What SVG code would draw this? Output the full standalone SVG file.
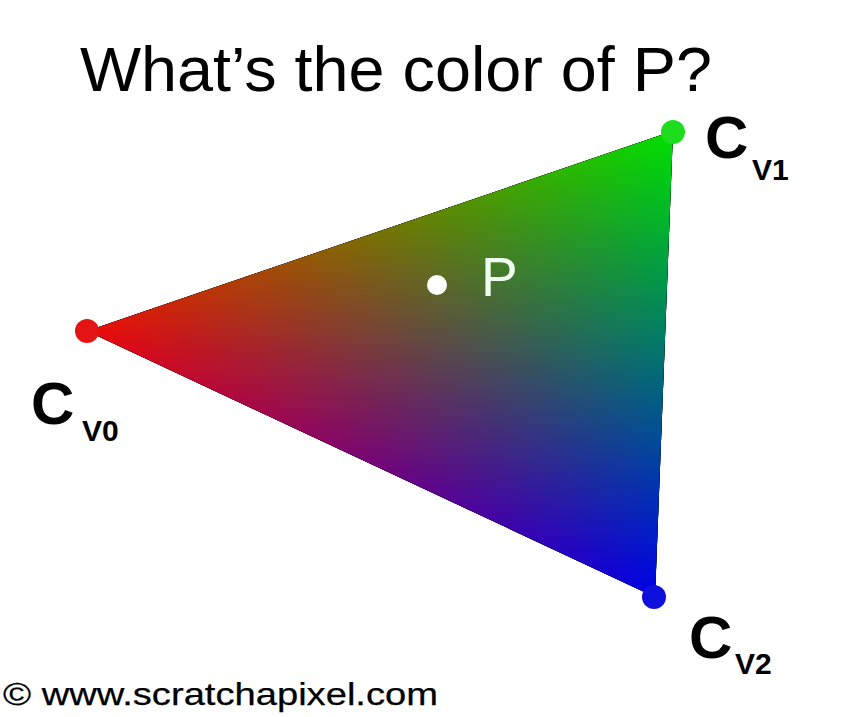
<svg xmlns="http://www.w3.org/2000/svg" width="864" height="717" viewBox="0 0 864 717">
  <style>
    .lbl { font-family: "Liberation Sans", Arial, sans-serif; fill: #000; }
    .big { font-size: 60px; font-weight: bold; }
    .sub { font-size: 30px; font-weight: bold; }
    .scr { mix-blend-mode: screen; }
  </style>
  <defs>
    <linearGradient id="gR" gradientUnits="userSpaceOnUse" x1="87" y1="331" x2="664.4" y2="353.3">
      <stop offset="0" stop-color="#ec0a0a"/>
      <stop offset="1" stop-color="#000"/>
    </linearGradient>
    <linearGradient id="gG" gradientUnits="userSpaceOnUse" x1="673" y1="131" x2="490.8" y2="520.1">
      <stop offset="0" stop-color="#00e000"/>
      <stop offset="1" stop-color="#000"/>
    </linearGradient>
    <linearGradient id="gB" gradientUnits="userSpaceOnUse" x1="655" y1="597" x2="514.4" y2="185.1">
      <stop offset="0" stop-color="#0000e6"/>
      <stop offset="1" stop-color="#000"/>
    </linearGradient>
  </defs>
  <rect width="864" height="717" fill="#fff"/>

  <text class="lbl" x="80" y="91" font-size="63" textLength="632" lengthAdjust="spacingAndGlyphs">What’s the color of P?</text>

  <g id="triangle" style="isolation:isolate">
    <polygon points="87,331 673,131 655,597" fill="#000"/>
    <polygon class="scr" points="87,331 673,131 655,597" fill="url(#gR)"/>
    <polygon class="scr" points="87,331 673,131 655,597" fill="url(#gG)"/>
    <polygon class="scr" points="87,331 673,131 655,597" fill="url(#gB)"/>
  </g>

  <g id="v0">
    <circle cx="87" cy="331" r="12" fill="#e21414"/>
    <text class="lbl big" x="31" y="424">C</text>
    <text class="lbl sub" x="82" y="441">V0</text>
  </g>
  <g id="v1">
    <circle cx="673" cy="132" r="12" fill="#1edc1e"/>
    <text class="lbl big" x="705" y="158">C</text>
    <text class="lbl sub" x="752" y="180">V1</text>
  </g>
  <g id="v2">
    <circle cx="654" cy="597" r="12" fill="#1010dc"/>
    <text class="lbl big" x="689" y="658">C</text>
    <text class="lbl sub" x="735" y="674">V2</text>
  </g>

  <g id="p">
    <circle cx="437" cy="285" r="10" fill="#fff"/>
    <text class="lbl" x="481" y="296" font-size="55" style="fill:#f0fff0">P</text>
  </g>

  <text class="lbl" x="3" y="705" font-size="32" stroke="#000" stroke-width="0.25" textLength="435" lengthAdjust="spacingAndGlyphs">© www.scratchapixel.com</text>
</svg>
